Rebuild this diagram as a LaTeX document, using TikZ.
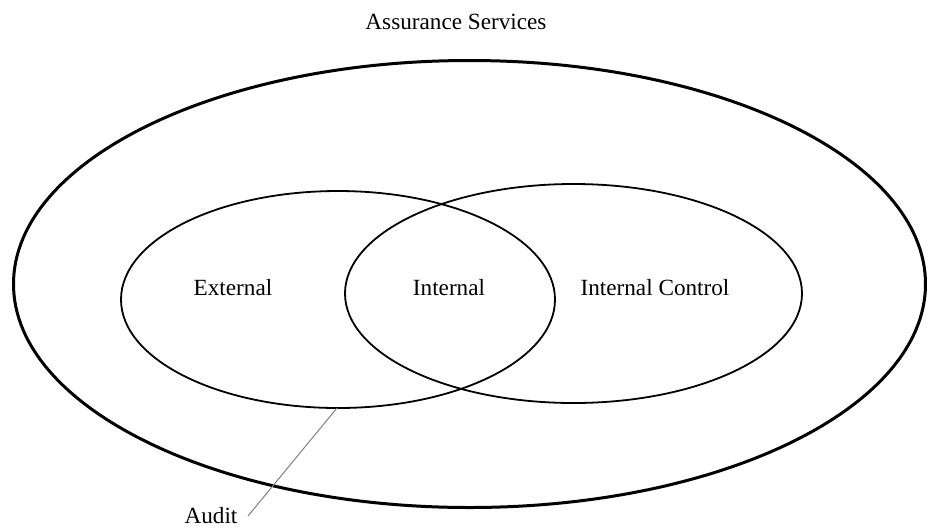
\documentclass[tikz,border=0pt]{standalone}
\usepackage{fontspec}
\setmainfont{Liberation Serif}
\begin{document}
\begin{tikzpicture}[x=0.5pt,y=-0.5pt,
    label text/.style={font=\fontsize{11.6}{13}\selectfont, inner sep=0pt, anchor=base}]
        \useasboundingbox (0,0) rectangle (927,527);

        % 外层椭圆
        \draw[line width=1.5pt] (469.5,284) ellipse (456 and 223.5);

        % 两个内层椭圆
        \draw[line width=0.9pt] (338,299.5) ellipse (217 and 108.5);
        \draw[line width=0.9pt] (573.5,293.5) ellipse (228.5 and 109.5);

        % 文字
        \node[label text] (title) at (456,29) {Assurance Services};
        \node[label text] (external) at (233,295) {External};
        \node[label text] (internal) at (449,295) {Internal};
        \node[label text] (control) at (655,295) {Internal Control};
        \node[label text] (audit) at (211,523) {Audit};

        % 引线
        \coordinate (auditpt) at (337,408);
        \coordinate (auditend) at (248,516);
        \draw[gray, line width=0.5pt] (auditpt) -- (auditend);

    \end{tikzpicture}
\end{document}
